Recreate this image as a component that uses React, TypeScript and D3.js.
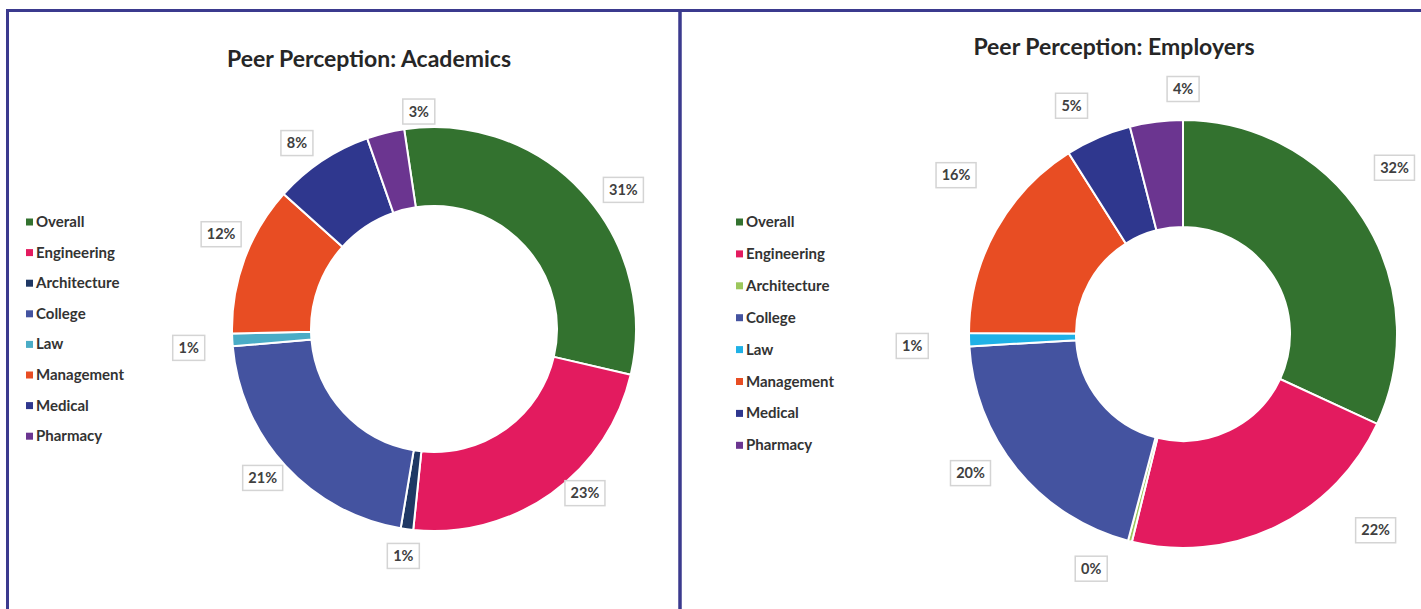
import React from 'react'
import * as d3 from 'd3'

const categories = ['Overall', 'Engineering', 'Architecture', 'College', 'Law', 'Management', 'Medical', 'Pharmacy']

const academicsValues = [31, 23, 1, 21, 1, 12, 8, 3]
const employersValues = [32, 22, 0.3, 20, 1, 16, 5, 4]

const academicsColors = ['#33722f', '#e31b5f', '#1f3864', '#4453a0', '#4aacc6', '#e84d23', '#2f378e', '#6b3590']
const employersColors = ['#33722f', '#e31b5f', '#9cc75c', '#4453a0', '#1fb1e6', '#e84d23', '#2f378e', '#6b3590']

// data labels were hand-placed in the original: [angle nudge in degrees, radius]
const academicsLabelPos = [[6.4, 235], [-7.1, 223], [0, 229], [1.7, 227], [-1.3, 246], [3.7, 233], [-2.7, 231], [9.9, 218]]
const employersLabelPos = [[-5.6, 269], [-18.8, 275], [7, 252], [6, 254], [-1, 271], [6, 277], [-2.7, 254], [7.2, 245]]

const W = 1421
const H = 609
const FONT = 'Lato, "Open Sans", sans-serif'
const BORDER = '#3b3a8e'

type DonutProps = {
    title: string
    titleX: number
    titleY: number
    values: number[]
    colors: string[]
    labelPos: number[][]
    cx: number
    cy: number
    outer: number
    inner: number
    startDeg: number
    legendX: number
    legendY: number
    legendStep: number
}

const Donut = (p: DonutProps) => {
    const start = (p.startDeg * Math.PI) / 180
    const pie = d3.pie<number>()
        .sort(null)
        .value(d => d)
        .startAngle(start)
        .endAngle(start + 2 * Math.PI)
    const arcs = pie(p.values)
    const arc = d3.arc<d3.PieArcDatum<number>>().innerRadius(p.inner).outerRadius(p.outer)
    const fmt = (v: number) => Math.round(v) + '%'

    const legendY = d3.scaleLinear().domain([0, categories.length - 1])
        .range([p.legendY, p.legendY + p.legendStep * (categories.length - 1)])

    return (
        <g>
            <text x={p.titleX} y={p.titleY} textAnchor='middle' fontFamily={FONT} fontWeight={700}
                fontSize={23} fill='#262626'>{p.title}</text>
            <g transform={`translate(${p.cx},${p.cy})`}>
                {arcs.map((a, i) => (
                    <path key={i} d={arc(a) || ''} fill={p.colors[i]} stroke='#fff' strokeWidth={2} />
                ))}
                {arcs.map((a, i) => {
                    const [nudge, r] = p.labelPos[i]
                    const ang = (a.startAngle + a.endAngle) / 2 + (nudge * Math.PI) / 180
                    const lx = r * Math.sin(ang)
                    const ly = -r * Math.cos(ang)
                    const t = fmt(a.data)
                    const bw = t.length > 2 ? 40 : 32
                    return (
                        <g key={'l' + i} transform={`translate(${lx},${ly})`}>
                            <rect x={-bw / 2} y={-12.5} width={bw} height={25} fill='#fff'
                                stroke='#d4d4d4' strokeWidth={1.5} />
                            <text y={5} textAnchor='middle' fontFamily={FONT} fontWeight={700}
                                fontSize={14.5} fill='#404040'>{t}</text>
                        </g>
                    )
                })}
            </g>
            <g>
                {categories.map((c, i) => (
                    <g key={c} transform={`translate(${p.legendX},${legendY(i)})`}>
                        <rect x={0} y={-3.5} width={7} height={7} fill={p.colors[i]} />
                        <text x={10} y={5} fontFamily={FONT} fontWeight={700} fontSize={15}
                            fill='#333'>{c}</text>
                    </g>
                ))}
            </g>
        </g>
    )
}

export default function App() {
    return (
        <svg width={W} height={H} style={{ position: 'absolute', left: 0, top: 0, background: '#fff' }}>
            <rect x={0} y={0} width={W} height={H} fill='#fff' />
            <line x1={6} x2={W} y1={10.5} y2={10.5} stroke={BORDER} strokeWidth={3} />
            <line x1={7.5} x2={7.5} y1={9} y2={H} stroke={BORDER} strokeWidth={3} />
            <line x1={680} x2={680} y1={9} y2={H} stroke={BORDER} strokeWidth={3.5} />
            <Donut title='Peer Perception: Academics' titleX={369} titleY={67}
                values={academicsValues} colors={academicsColors} labelPos={academicsLabelPos}
                cx={434} cy={329} outer={202} inner={123} startDeg={-8.5}
                legendX={26} legendY={222} legendStep={30.6} />
            <Donut title='Peer Perception:  Employers' titleX={1114} titleY={55}
                values={employersValues} colors={employersColors} labelPos={employersLabelPos}
                cx={1183} cy={334} outer={214} inner={107} startDeg={0}
                legendX={736} legendY={222} legendStep={31.9} />
        </svg>
    )
}
